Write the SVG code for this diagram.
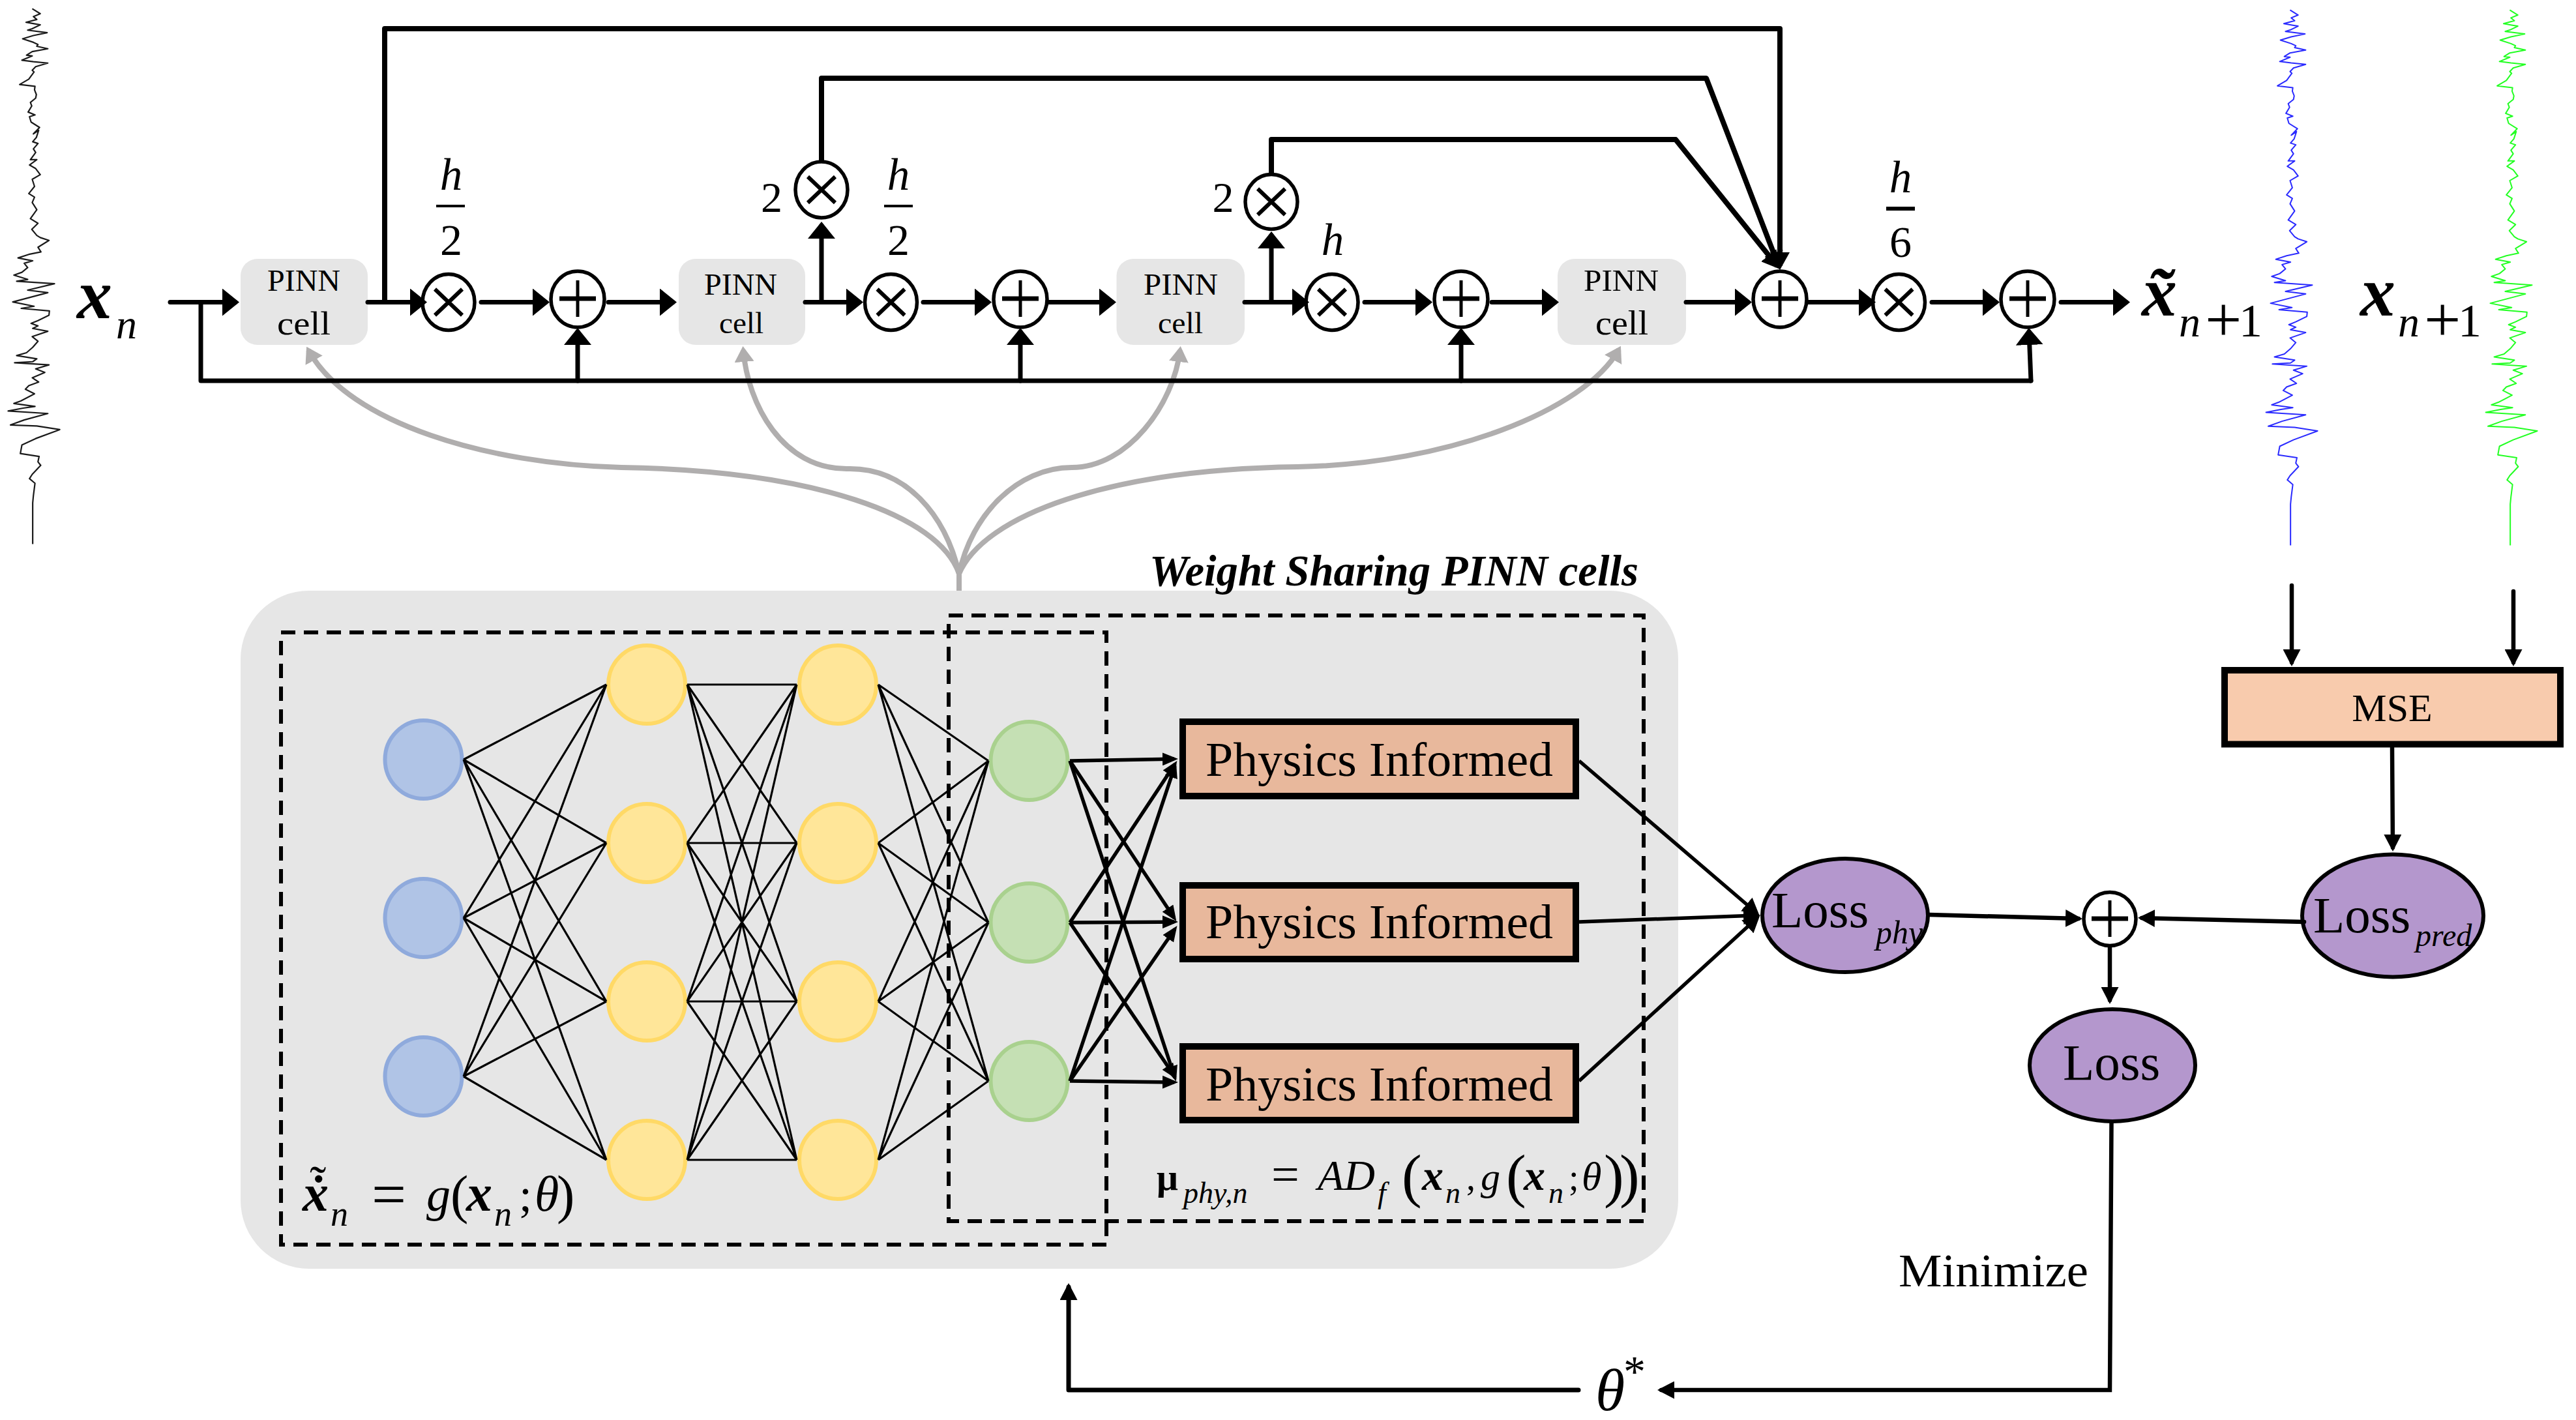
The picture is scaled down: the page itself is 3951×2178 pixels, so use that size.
<svg xmlns="http://www.w3.org/2000/svg" width="3951" height="2178" viewBox="0 0 3951 2178">
<style>
text{font-family:"Liberation Serif","Times New Roman",serif;fill:#000}
.i{font-style:italic}
.bi{font-style:italic;font-weight:bold}
.m{text-anchor:middle}
.sig{fill:none;stroke-linejoin:round;vector-effect:non-scaling-stroke}
.cell{fill:#e6e6e6}
.op{fill:#fff;stroke:#000;stroke-width:5.5}
.dash{fill:none;stroke:#000;stroke-width:6;stroke-dasharray:22 13}
.b{fill:#b0c4e6;stroke:#8faadc;stroke-width:6}
.y{fill:#ffe699;stroke:#ffd966;stroke-width:6}
.g{fill:#c5e0b4;stroke:#a9d18e;stroke-width:6}
.phys{fill:#e8b89c;stroke:#000;stroke-width:10}
.loss{fill:#b497cd;stroke:#000;stroke-width:6}
.main{fill:none;stroke:#000;stroke-width:7;stroke-linecap:round;stroke-linejoin:round}
.top{fill:none;stroke:#000;stroke-width:8;stroke-linejoin:round}
.nn{fill:none;stroke:#000;stroke-width:3.2}
.ph{fill:none;stroke:#000;stroke-width:5.5}
.low{fill:none;stroke:#000;stroke-width:6.5;stroke-linecap:round}
.gray{fill:none;stroke:#b0aeae;stroke-width:8}
.h{marker-end:url(#ah)}
.t{marker-end:url(#at)}
.s{marker-end:url(#as)}
.k{marker-end:url(#ak)}
.r{marker-end:url(#ar)}
</style>
<defs>
<marker id="ah" markerUnits="userSpaceOnUse" viewBox="0 0 26 42" markerWidth="26" markerHeight="42" refX="20" refY="21" orient="auto"><path d="M0 0L26 21L0 42Z"/></marker>
<marker id="at" markerUnits="userSpaceOnUse" viewBox="0 0 27 30" markerWidth="27" markerHeight="30" refX="21" refY="15" orient="auto"><path d="M0 0L27 15L0 30Z"/></marker>
<marker id="as" markerUnits="userSpaceOnUse" viewBox="0 0 24 20" markerWidth="24" markerHeight="20" refX="18" refY="10" orient="auto"><path d="M0 0L24 10L0 20Z"/></marker>
<marker id="ak" markerUnits="userSpaceOnUse" viewBox="0 0 26 27" markerWidth="26" markerHeight="27" refX="20" refY="13.5" orient="auto"><path d="M0 0L26 13.5L0 27Z"/></marker>
<marker id="ar" markerUnits="userSpaceOnUse" viewBox="0 0 24 30" markerWidth="24" markerHeight="30" refX="18" refY="15" orient="auto"><path d="M0 0L24 15L0 30Z" fill="#b0aeae"/></marker>
<path id="sig" class="sig" d="M320 28L355 42L325 50L340 58L293 66L328 70L355 73L320 84L300 88L385 95L325 103L278 112L325 122L345 128L340 133L388 140L320 148L295 158L320 160L275 172L325 176L388 180L335 190L320 200L328 205L305 225L265 240L332 245L330 255L338 268L335 278L312 290L318 300L302 317L332 325L308 330L315 345L352 360L325 378L348 368L338 388L322 400L345 405L325 420L335 430L312 450L340 450L308 465L335 475L355 492L320 505L330 525L305 545L330 555L320 570L340 590L312 615L345 628L318 645L340 662L355 668L393 676L345 695L358 708L305 715L258 725L322 733L285 740L300 752L275 765L240 773L300 785L252 790L417 797L300 815L388 822L235 848L328 860L272 866L395 873L393 885L345 900L315 908L345 915L322 922L388 930L320 945L345 958L322 975L295 990L252 998L340 1007L322 1015L243 1018L393 1024L335 1035L375 1045L320 1060L348 1072L305 1082L290 1092L330 1105L270 1125L240 1132L332 1140L280 1145L215 1153L388 1160L285 1178L225 1192L340 1195L440 1205L335 1230L275 1248L268 1272L350 1280L345 1295L357 1305L320 1330L308 1342L332 1355L325 1390L322 1410L322 1525"/>
<g id="xm"><path d="M-21 -20L21 20M21 -20L-21 20" fill="none" stroke="#000" stroke-width="6"/></g>
<g id="pm"><path d="M-28 0H28" fill="none" stroke="#000" stroke-width="7"/><path d="M0 -28V28" fill="none" stroke="#000" stroke-width="5"/></g>
</defs>

<rect width="3951" height="2178" fill="#fff"/>

<g id="signals">
<use href="#sig" transform="translate(-63 -2) scale(0.3514 0.5485)" stroke="#1a1a1a" stroke-width="2.2"/>
<use href="#sig" transform="translate(3400 0) scale(0.3514 0.5485)" stroke="#2a2aff" stroke-width="2"/>
<use href="#sig" transform="translate(3737 0) scale(0.3514 0.5485)" stroke="#22ff22" stroke-width="2"/>
</g>

<g id="panel"><rect x="369" y="906" width="2205" height="1040" rx="105" ry="105" fill="#e6e6e6"/></g>
<rect id="dashed-g" class="dash" x="431" y="970" width="1266" height="939"/>
<rect id="dashed-phy" class="dash" x="1455" y="944" width="1066" height="929"/>
<text id="title" class="bi" x="1763" y="898" font-size="68" textLength="750" lengthAdjust="spacingAndGlyphs">Weight Sharing PINN cells</text>

<g id="input-nodes">
<ellipse class="b" cx="649.5" cy="1165" rx="59" ry="60"/>
<ellipse class="b" cx="649.5" cy="1408" rx="59" ry="60"/>
<ellipse class="b" cx="649.5" cy="1651" rx="59" ry="60"/>
</g>
<g id="hidden-1">
<ellipse class="y" cx="992" cy="1050" rx="59" ry="60"/>
<ellipse class="y" cx="992" cy="1293" rx="59" ry="60"/>
<ellipse class="y" cx="992" cy="1536" rx="59" ry="60"/>
<ellipse class="y" cx="992" cy="1779" rx="59" ry="60"/>
</g>
<g id="hidden-2">
<ellipse class="y" cx="1285" cy="1050" rx="59" ry="60"/>
<ellipse class="y" cx="1285" cy="1293" rx="59" ry="60"/>
<ellipse class="y" cx="1285" cy="1536" rx="59" ry="60"/>
<ellipse class="y" cx="1285" cy="1779" rx="59" ry="60"/>
</g>
<g id="output-nodes">
<ellipse class="g" cx="1578.5" cy="1167" rx="59" ry="60"/>
<ellipse class="g" cx="1578.5" cy="1415" rx="59" ry="60"/>
<ellipse class="g" cx="1578.5" cy="1658" rx="59" ry="60"/>
</g>

<g id="physics-1"><rect class="phys" x="1814" y="1107" width="603" height="114"/><text x="1849" y="1190" font-size="74" textLength="533" lengthAdjust="spacingAndGlyphs">Physics Informed</text></g>
<g id="physics-2"><rect class="phys" x="1814" y="1358" width="603" height="113"/><text x="1849" y="1439" font-size="74" textLength="533" lengthAdjust="spacingAndGlyphs">Physics Informed</text></g>
<g id="physics-3"><rect class="phys" x="1814" y="1605" width="603" height="113"/><text x="1849" y="1688" font-size="74" textLength="533" lengthAdjust="spacingAndGlyphs">Physics Informed</text></g>

<g id="eq-g"><text><tspan class="bi" x="464" y="1857" font-size="80">x</tspan><tspan x="476" y="1856" font-size="76" font-weight="bold">˙</tspan><tspan x="475" y="1841" font-size="76">˜</tspan><tspan class="i" x="507" y="1880" font-size="54">n</tspan><tspan x="570" y="1863" font-size="94">=</tspan><tspan class="i" x="654" y="1857" font-size="74">g</tspan><tspan x="691" y="1860" font-size="82">(</tspan><tspan class="bi" x="715" y="1857" font-size="80">x</tspan><tspan class="i" x="758" y="1880" font-size="54">n</tspan><tspan x="796" y="1857" font-size="72">;</tspan><tspan class="i" x="820" y="1857" font-size="76">θ</tspan><tspan x="854" y="1860" font-size="82">)</tspan></text></g>

<g id="eq-phy"><text><tspan font-weight="bold" x="1774" y="1825" font-size="58">μ</tspan><tspan class="i" x="1815" y="1845" font-size="46">phy,n</tspan><tspan x="1950" y="1827" font-size="76">=</tspan><tspan class="i" x="2021" y="1825" font-size="66">AD</tspan><tspan class="i" x="2113" y="1845" font-size="46">f</tspan><tspan x="2150" y="1834" font-size="92">(</tspan><tspan class="bi" x="2181" y="1825" font-size="66">x</tspan><tspan class="i" x="2217" y="1845" font-size="46">n</tspan><tspan x="2249" y="1825" font-size="56">,</tspan><tspan class="i" x="2271" y="1825" font-size="60">g</tspan><tspan x="2310" y="1834" font-size="92">(</tspan><tspan class="bi" x="2337" y="1825" font-size="66">x</tspan><tspan class="i" x="2375" y="1845" font-size="46">n</tspan><tspan x="2406" y="1825" font-size="56">;</tspan><tspan class="i" x="2426" y="1825" font-size="62">θ</tspan><tspan x="2460" y="1834" font-size="92">)</tspan><tspan x="2484" y="1834" font-size="92">)</tspan></text></g>

<g id="pinn-1"><rect class="cell" x="369" y="397" width="195" height="132" rx="26"/><text class="m" x="466" y="446" font-size="47" textLength="112" lengthAdjust="spacingAndGlyphs">PINN</text><text class="m" x="466" y="513" font-size="50" textLength="82" lengthAdjust="spacingAndGlyphs">cell</text></g>
<g id="pinn-2"><rect class="cell" x="1041" y="397" width="194" height="132" rx="26"/><text class="m" x="1136" y="452" font-size="47" textLength="112" lengthAdjust="spacingAndGlyphs">PINN</text><text class="m" x="1137" y="511" font-size="46" textLength="68" lengthAdjust="spacingAndGlyphs">cell</text></g>
<g id="pinn-3"><rect class="cell" x="1712.5" y="397" width="196.5" height="132" rx="26"/><text class="m" x="1811" y="452" font-size="47" textLength="114" lengthAdjust="spacingAndGlyphs">PINN</text><text class="m" x="1810.5" y="511" font-size="46" textLength="69" lengthAdjust="spacingAndGlyphs">cell</text></g>
<g id="pinn-4"><rect class="cell" x="2389" y="397" width="197" height="132" rx="26"/><text class="m" x="2486.5" y="446" font-size="47" textLength="115" lengthAdjust="spacingAndGlyphs">PINN</text><text class="m" x="2487.5" y="513" font-size="52" textLength="81" lengthAdjust="spacingAndGlyphs">cell</text></g>

<g id="mul-1"><ellipse class="op" cx="688" cy="463.5" rx="40" ry="43"/><use href="#xm" x="688" y="463.5"/></g>
<g id="add-1"><ellipse class="op" cx="886" cy="459" rx="41" ry="43"/><use href="#pm" x="886" y="458"/></g>
<g id="mul-2"><ellipse class="op" cx="1260" cy="291" rx="40" ry="43"/><use href="#xm" x="1260" y="291"/></g>
<g id="mul-3"><ellipse class="op" cx="1366.5" cy="463.5" rx="40" ry="43"/><use href="#xm" x="1366.5" y="463.5"/></g>
<g id="add-2"><ellipse class="op" cx="1565" cy="459" rx="41" ry="43"/><use href="#pm" x="1565" y="458"/></g>
<g id="mul-4"><ellipse class="op" cx="1950" cy="309.5" rx="40" ry="42"/><use href="#xm" x="1950" y="309.5"/></g>
<g id="mul-5"><ellipse class="op" cx="2043" cy="463.5" rx="40" ry="43"/><use href="#xm" x="2043" y="463.5"/></g>
<g id="add-3"><ellipse class="op" cx="2241" cy="459" rx="41" ry="43"/><use href="#pm" x="2241" y="458"/></g>
<g id="add-4"><ellipse class="op" cx="2730" cy="459" rx="41" ry="43"/><use href="#pm" x="2730" y="458"/></g>
<g id="mul-6"><ellipse class="op" cx="2912.5" cy="463.5" rx="40" ry="43"/><use href="#xm" x="2912.5" y="463.5"/></g>
<g id="add-5"><ellipse class="op" cx="3110" cy="459" rx="41" ry="43"/><use href="#pm" x="3110" y="458"/></g>

<g id="labels">
<text><tspan class="bi" x="118" y="488" font-size="108">x</tspan><tspan class="i" x="178" y="519" font-size="64">n</tspan></text>
<text class="i m" x="692" y="291" font-size="69">h</text><rect x="669" y="314" width="44" height="4"/><text class="m" x="692" y="391" font-size="68">2</text>
<text class="i m" x="1378" y="291" font-size="69">h</text><rect x="1356" y="314" width="44" height="4"/><text class="m" x="1378" y="391" font-size="68">2</text>
<text class="m" x="1183.5" y="325" font-size="66">2</text>
<text class="m" x="1876" y="325" font-size="66">2</text>
<text class="i m" x="2044" y="391" font-size="69">h</text>
<text class="i m" x="2915" y="295" font-size="69">h</text><rect x="2893" y="317" width="44" height="6"/><text class="m" x="2915" y="394" font-size="68">6</text>
<text><tspan class="bi" x="3285" y="484" font-size="108">x&#771;</tspan><tspan class="i" x="3342" y="516" font-size="66">n</tspan><tspan x="3382" y="524" font-size="100">+</tspan><tspan x="3434" y="516" font-size="72">1</tspan></text>
<text><tspan class="bi" x="3620" y="484" font-size="108">x</tspan><tspan class="i" x="3678" y="516" font-size="66">n</tspan><tspan x="3718" y="524" font-size="100">+</tspan><tspan x="3770" y="516" font-size="72">1</tspan></text>
<text x="2912" y="1973" font-size="72" textLength="291" lengthAdjust="spacingAndGlyphs">Minimize</text>
<text><tspan class="i" x="2447" y="2163" font-size="92">θ</tspan><tspan x="2490" y="2126" font-size="68">*</tspan></text>
</g>

<g id="mse"><rect x="3412" y="1028" width="515" height="113.5" fill="#f8cbad" stroke="#000" stroke-width="10"/><text class="m" x="3669" y="1106" font-size="60">MSE</text></g>
<g id="loss-phy"><ellipse class="loss" cx="2830" cy="1404" rx="127" ry="87"/><text><tspan x="2717" y="1422" font-size="79">Loss</tspan><tspan class="i" x="2877" y="1447" font-size="50">phy</tspan></text></g>
<g id="loss-pred"><ellipse class="loss" cx="3670" cy="1404.5" rx="139" ry="94"/><text><tspan x="3548" y="1430" font-size="79">Loss</tspan><tspan class="i" x="3705" y="1451" font-size="48">pred</tspan></text></g>
<g id="loss"><ellipse class="loss" cx="3240" cy="1634" rx="127" ry="86"/><text x="3164" y="1656" font-size="79">Loss</text></g>
<g id="add-loss"><ellipse class="op" cx="3236" cy="1409.5" rx="40" ry="41"/><use href="#pm" x="3236" y="1409"/></g>

<g id="connectors">
<g id="shared-weights">
<path class="gray" d="M1471 906V870"/>
<path class="gray r" d="M1471 880C1440 790 1250 722 953 717C750 712 535 650 473 537"/>
<path class="gray r" d="M1471 880C1450 790 1390 717 1300 719C1200 720 1147 620 1140 537"/>
<path class="gray r" d="M1471 880C1490 790 1560 717 1644 717C1730 717 1800 620 1810 537"/>
<path class="gray r" d="M1471 880C1510 790 1700 720 1990 716C2220 712 2430 630 2483 536"/>
</g>
<g id="rk-flow">
<path class="main h" d="M261 463.5H361"/>
<path class="main" d="M308 463.5V584H3115"/>
<path class="main h" d="M886 584V509"/>
<path class="main h" d="M1565 584V509"/>
<path class="main h" d="M2241 584V509"/>
<path class="main h" d="M3115 584L3112 509"/>
<path class="main h" d="M564 463.5H649"/>
<path class="main h" d="M738 463.5H837"/>
<path class="main h" d="M933 463.5H1032"/>
<path class="main h" d="M1235 463.5H1318"/>
<path class="main h" d="M1416 463.5H1515"/>
<path class="main h" d="M1608 463.5H1706"/>
<path class="main h" d="M1909 463.5H2002"/>
<path class="main h" d="M2093 463.5H2191"/>
<path class="main h" d="M2288 463.5H2385"/>
<path class="main h" d="M2586 463.5H2681"/>
<path class="main h" d="M2772 463.5H2871"/>
<path class="main h" d="M2963 463.5H3061"/>
<path class="main h" d="M3161 463.5H3261"/>
<path class="main h" d="M1260 463.5V346"/>
<path class="main h" d="M1950 463.5V361"/>
<path class="top t" d="M590 463.5V44H2730V408"/>
<path class="top t" d="M1260 250V120H2617L2728 408"/>
<path class="top t" d="M1950 268V214H2570L2726 408"/>
</g>
<g id="network-edges">
<path class="nn" d="M711 1165L930 1050M711 1165L930 1293M711 1165L930 1536M711 1165L930 1779M711 1408L930 1050M711 1408L930 1293M711 1408L930 1536M711 1408L930 1779M711 1651L930 1050M711 1651L930 1293M711 1651L930 1536M711 1651L930 1779"/>
<path class="nn" d="M1054 1050L1222 1050M1054 1050L1222 1293M1054 1050L1222 1536M1054 1050L1222 1779M1054 1293L1222 1050M1054 1293L1222 1293M1054 1293L1222 1536M1054 1293L1222 1779M1054 1536L1222 1050M1054 1536L1222 1293M1054 1536L1222 1536M1054 1536L1222 1779M1054 1779L1222 1050M1054 1779L1222 1293M1054 1779L1222 1536M1054 1779L1222 1779"/>
<path class="nn" d="M1347 1050L1516 1167M1347 1050L1516 1415M1347 1050L1516 1658M1347 1293L1516 1167M1347 1293L1516 1415M1347 1293L1516 1658M1347 1536L1516 1167M1347 1536L1516 1415M1347 1536L1516 1658M1347 1779L1516 1167M1347 1779L1516 1415M1347 1779L1516 1658"/>
</g>
<g id="physics-edges">
<path class="ph s" d="M1641 1167L1801 1164"/>
<path class="ph s" d="M1641 1167L1801 1408"/>
<path class="ph s" d="M1641 1167L1802 1653"/>
<path class="ph s" d="M1641 1415L1802 1172"/>
<path class="ph s" d="M1641 1415L1801 1414"/>
<path class="ph s" d="M1641 1415L1801 1650"/>
<path class="ph s" d="M1641 1658L1802 1175"/>
<path class="ph s" d="M1641 1658L1802 1425"/>
<path class="ph s" d="M1641 1658L1801 1660"/>
</g>
<g id="loss-edges">
<path class="ph k" d="M2422 1167L2694 1400"/>
<path class="ph k" d="M2422 1414L2694 1404"/>
<path class="ph k" d="M2422 1658L2695 1408"/>
<path class="low k" d="M2959 1403L3188 1409"/>
<path class="low k" d="M3534 1414L3285 1408"/>
<path class="low k" d="M3236 1453V1534"/>
<path class="low k" d="M3515 898V1016"/>
<path class="low k" d="M3855 907V1016"/>
<path class="low k" d="M3669 1147L3670 1300"/>
<path class="low k" d="M3238.5 1723L3236 2132H2548"/>
<path class="main k" d="M2421 2132H1639V1974"/>
</g>
</g>
</svg>
